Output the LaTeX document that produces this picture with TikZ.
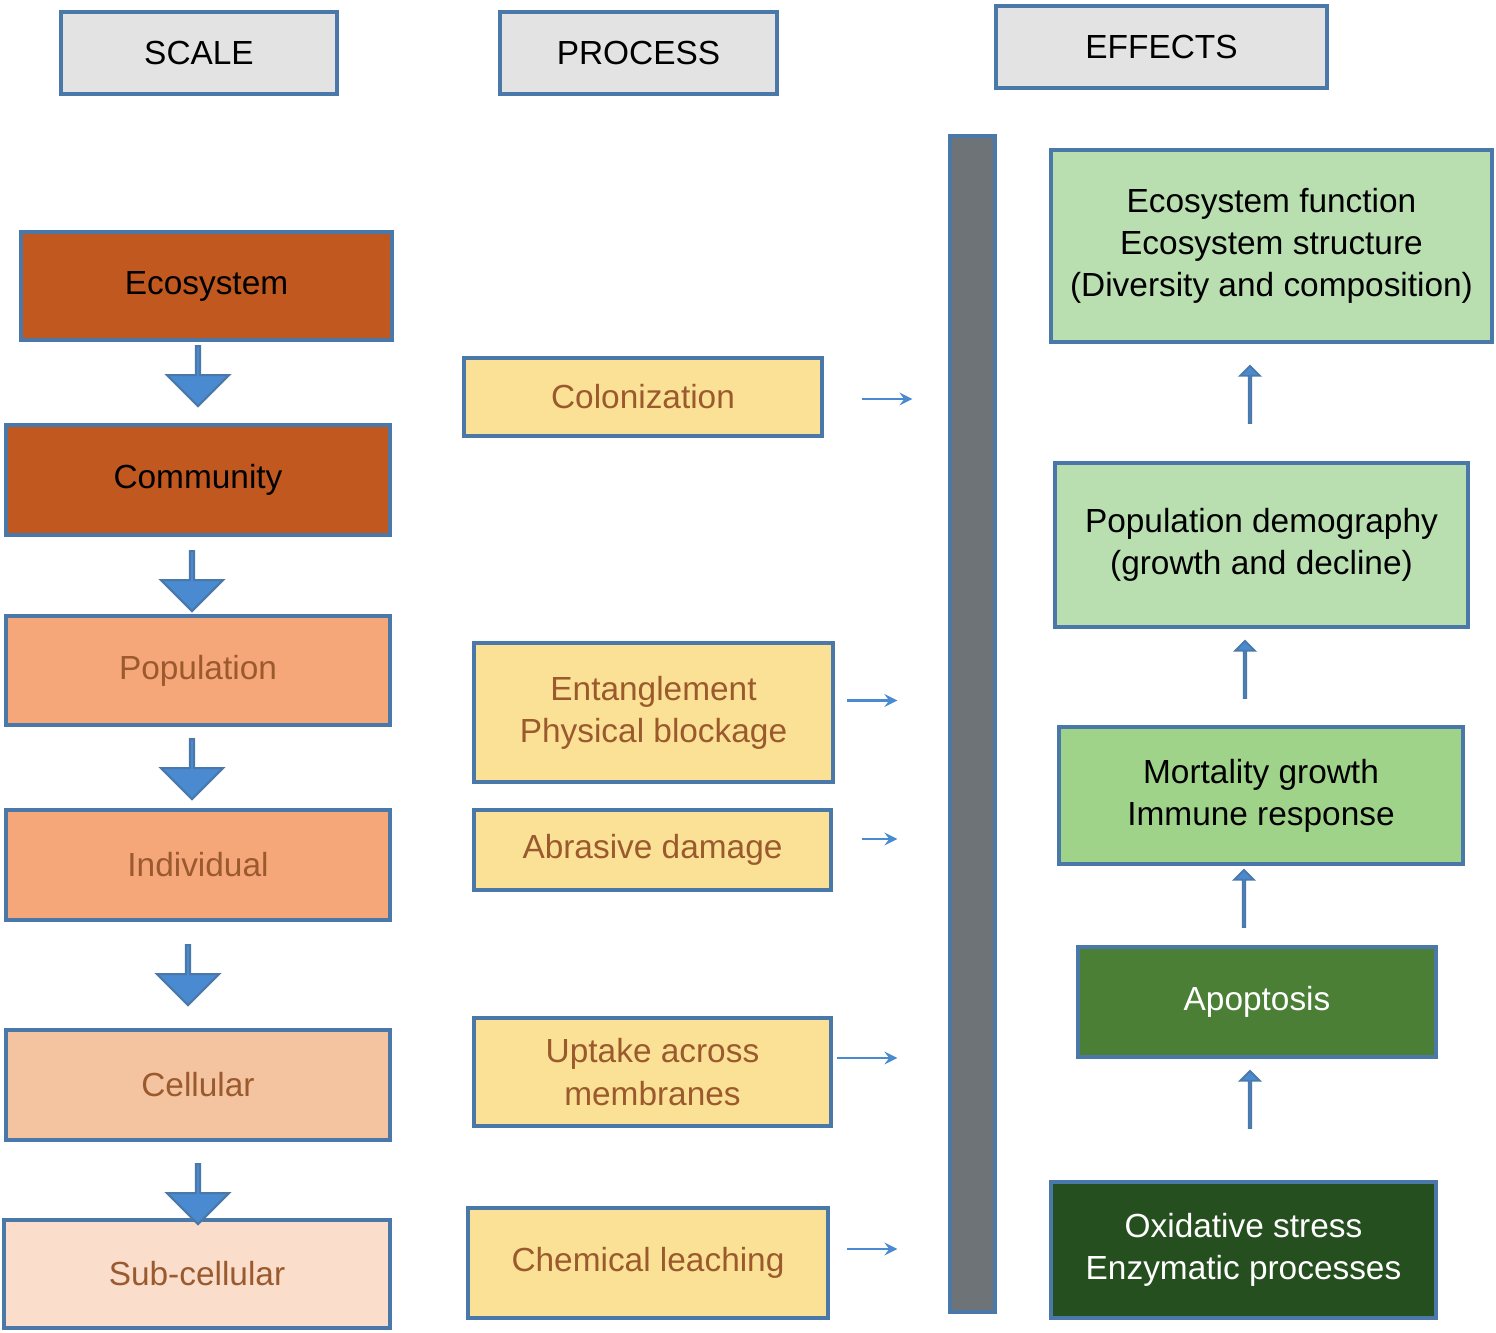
\documentclass[tikz,border=0pt]{standalone}
\usepackage{fontspec}
\setmainfont{Liberation Sans}
\usetikzlibrary{shapes.arrows}
\definecolor{edge}{HTML}{4A78A8}
\definecolor{ablue}{HTML}{4A8AD0}
\definecolor{brtext}{HTML}{9B5A2E}
\tikzset{
  box/.style={draw=edge,line width=1.2pt,align=center,inner sep=0pt,font=\fontsize{9.5}{12}\selectfont},
  head/.style={box,fill=gray!22},
  down/.style={single arrow,draw=edge,fill=ablue,line width=0.6pt,rotate=-90,
    minimum width=0.62cm,minimum height=0.6cm,single arrow head extend=0.14cm,inner sep=0pt},
  up/.style={single arrow,draw=edge,fill=ablue,line width=0.5pt,rotate=90,
    minimum width=0.2cm,minimum height=0.57cm,single arrow head extend=0.06cm,inner sep=0pt},
  tip/.style={->,>=stealth,draw=ablue,line width=0.6pt}
}
\begin{document}
\begin{tikzpicture}[x=0.01cm,y=-0.01cm]
  \useasboundingbox (0,0) rectangle (1496,1333);

  % Kopfzeilen
  \node[head,minimum width=2.76cm,minimum height=0.82cm] (scale) at (199,53) {SCALE};
  \node[head,minimum width=2.77cm,minimum height=0.82cm] (process) at (638.5,53) {PROCESS};
  \node[head,minimum width=3.31cm,minimum height=0.82cm] (effects) at (1161.5,47) {EFFECTS};

  % Skala
  \node[box,fill={rgb,255:red,192;green,88;blue,31},minimum width=3.71cm,minimum height=1.08cm] (eco) at (206.5,286) {Ecosystem};
  \node[box,fill={rgb,255:red,192;green,88;blue,31},minimum width=3.84cm,minimum height=1.10cm] (comm) at (198,480) {Community};
  \node[box,fill={rgb,255:red,245;green,167;blue,122},text=brtext,minimum width=3.84cm,minimum height=1.09cm] (pop) at (198,670.5) {Population};
  \node[box,fill={rgb,255:red,245;green,167;blue,122},text=brtext,minimum width=3.84cm,minimum height=1.10cm] (ind) at (198,865) {Individual};
  \node[box,fill={rgb,255:red,244;green,195;blue,160},text=brtext,minimum width=3.84cm,minimum height=1.10cm] (cell) at (198,1085) {Cellular};
  \node[box,fill={rgb,255:red,250;green,221;blue,203},text=brtext,minimum width=3.86cm,minimum height=1.08cm] (sub) at (197,1274) {Sub-cellular};

  \node[down] (d1) at (198,375) {};
  \node[down] (d2) at (192,580) {};
  \node[down] (d3) at (192,768) {};
  \node[down] (d4) at (188,974) {};
  \node[down] (d5) at (198,1193) {};

  % Prozesse
  \tikzset{proc/.style={box,fill={rgb,255:red,251;green,225;blue,150},text=brtext}}
  \node[proc,minimum width=3.58cm,minimum height=0.78cm] (colon) at (643,397) {Colonization};
  \node[proc,minimum width=3.59cm,minimum height=1.39cm] (entang) at (653.5,712.5) {Entanglement\\Physical blockage};
  \node[proc,minimum width=3.57cm,minimum height=0.80cm] (abr) at (652.5,850) {Abrasive damage};
  \node[proc,minimum width=3.57cm,minimum height=1.08cm] (upt) at (652.5,1072) {Uptake across\\membranes};
  \node[proc,minimum width=3.60cm,minimum height=1.10cm] (chem) at (648,1263) {Chemical leaching};

  \draw[tip] ([xshift=0.38cm,yshift=-0.02cm]colon.east) coordinate (c1) -- ++(0.5cm,0);
  \draw[tip] ([xshift=0.12cm,yshift=0.12cm]entang.east) coordinate (c2) -- ++(0.5cm,0);
  \draw[tip] ([xshift=0.29cm,yshift=0.11cm]abr.east) coordinate (c3) -- ++(0.35cm,0);
  \draw[tip] ([xshift=0.04cm,yshift=0.14cm]upt.east) coordinate (c4) -- ++(0.6cm,0);
  \draw[tip] ([xshift=0.17cm,yshift=0.14cm]chem.east) coordinate (c5) -- ++(0.5cm,0);

  % Balken
  \node[box,fill={rgb,255:red,110;green,115;blue,120},minimum width=0.45cm,minimum height=11.76cm] (bar) at (972.5,724) {};

  % Wirkungen
  \node[box,fill={rgb,255:red,185;green,223;blue,176},minimum width=4.41cm,minimum height=1.92cm] (ef) at (1271.5,246) {Ecosystem function\\Ecosystem structure\\(Diversity and composition)};
  \node[box,fill={rgb,255:red,185;green,223;blue,176},minimum width=4.13cm,minimum height=1.64cm] (pd) at (1261.5,545) {Population demography\\(growth and decline)};
  \node[box,fill={rgb,255:red,160;green,211;blue,138},minimum width=4.04cm,minimum height=1.37cm] (mort) at (1261,795.5) {Mortality growth\\Immune response};
  \node[box,fill={rgb,255:red,74;green,127;blue,53},text=white,minimum width=3.58cm,minimum height=1.10cm] (apop) at (1257,1002) {Apoptosis};
  \node[box,fill={rgb,255:red,37;green,79;blue,30},text=white,minimum width=3.85cm,minimum height=1.36cm] (ox) at (1243.5,1250) {Oxidative stress\\Enzymatic processes};

  \node[up] (u1) at (1250,395) {};
  \node[up] (u2) at (1245,670) {};
  \node[up] (u3) at (1244,899) {};
  \node[up] (u4) at (1250,1100) {};
\end{tikzpicture}
\end{document}
